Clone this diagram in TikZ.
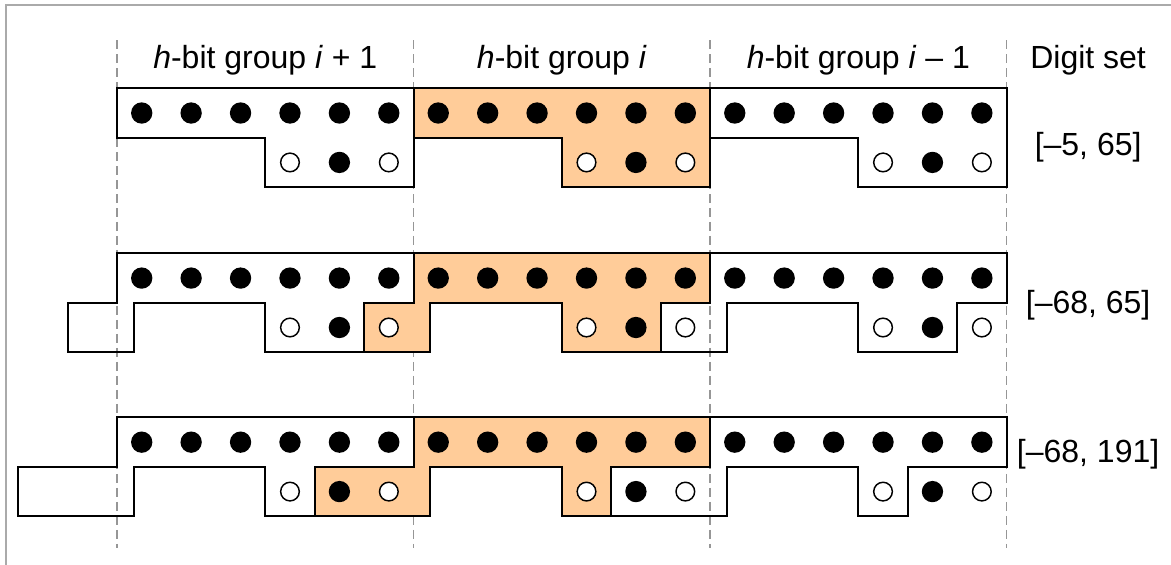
\documentclass[tikz,border=0pt]{standalone}
\usepackage{fontspec}
\setmainfont{Liberation Sans}
\usepackage{xcolor}
\definecolor{peach}{RGB}{255,204,153}
\definecolor{guidegray}{RGB}{150,150,150}
\definecolor{framegray}{RGB}{170,170,170}
\usepackage{tikz}
\newcommand{\sizebit}{16pt}
\newcommand{\sizelabel}{\fontsize{24pt}{28pt}\selectfont}
\tikzset{
    common/.style={inner sep=0pt, outer sep=0pt},
    fullbit/.style={common, circle, fill=black, minimum size=\sizebit},
    emptybit/.style={common, circle, draw=black, fill=white, line width=1.1pt, minimum size=\sizebit-2pt},
    outline/.style={draw=black, line width=1.5pt},
    chosen/.style={outline, fill=peach},
    guide/.style={guidegray, line width=1.3pt, dash pattern=on 6.5pt off 4pt},
    heading/.style={anchor=base, font=\sizelabel},
    digitset/.style={anchor=base, font=\sizelabel}
}

\begin{document}
\begin{tikzpicture}[x=37.07pt, y=37.07pt]
    \useasboundingbox (-2.3675,-9.6257) rectangle (21.327,1.7867);
    \draw[framegray, line width=1.5pt] (-2.246,-9.7) -- (-2.246,1.6856) -- (21.4,1.6856);

    \foreach \x in {0,6,12,18}
        \draw[guide] (\x,0.977) -- (\x,-9.302);

    \foreach \g/\f in {0/outline,6/chosen,12/outline}
        \draw[\f] (\g,0) -- (\g+6,0) -- (\g+6,-2) -- (\g+3,-2) -- (\g+3,-1) -- (\g,-1) -- cycle;

    \foreach \top/\a/\b in {-3.34/5/-1, -6.66/4/-2}
        \foreach \g/\f in {0/outline,6/chosen,12/outline}
            \draw[\f, shift={(0,\top)}] (\g,0) -- (\g+6,0) -- (\g+6,-1) -- (\g+\a,-1) -- (\g+\a,-2)
                -- (\g+3,-2) -- (\g+3,-1) -- (\g+0.34,-1) -- (\g+0.34,-2) -- (\g+\b,-2) -- (\g+\b,-1)
                -- (\g,-1) -- cycle;

    \foreach \s/\top in {1/0, 2/-3.34, 3/-6.66} {
        \foreach \c in {0,...,17}
            \node[fullbit] (s\s-t\c) at (\c+0.5,\top-0.5) {};
        \foreach \g in {0,6,12} {
            \node[emptybit] (s\s-b\g-a) at (\g+3.5,\top-1.5) {};
            \node[fullbit] (s\s-b\g-b) at (\g+4.5,\top-1.5) {};
            \node[emptybit] (s\s-b\g-c) at (\g+5.5,\top-1.5) {};
        }
    }

    \node[heading] (grp-up) at (3,0.405) {\textit{h}-bit group \textit{i} + 1};
    \node[heading] (grp-mid) at (9,0.405) {\textit{h}-bit group \textit{i}};
    \node[heading] (grp-down) at (15,0.405) {\textit{h}-bit group \textit{i} – 1};
    \node[heading] (digits) at (19.65,0.405) {Digit set};
    \node[digitset] (set-a) at (19.65,-1.35) {[–5, 65]};
    \node[digitset] (set-b) at (19.65,-4.553) {[–68, 65]};
    \node[digitset] (set-c) at (19.65,-7.576) {[–68, 191]};
\end{tikzpicture}
\end{document}
